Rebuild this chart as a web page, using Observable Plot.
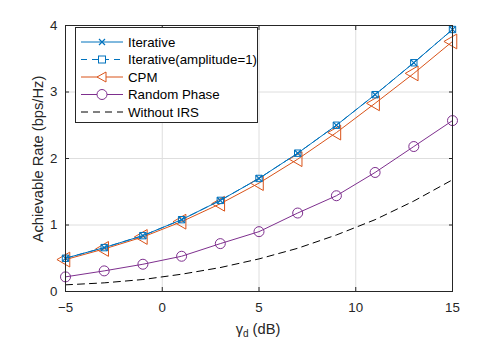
<!DOCTYPE html>
<html><head><meta charset="utf-8">
<script src="https://cdn.jsdelivr.net/npm/d3@7"></script>
<script src="https://cdn.jsdelivr.net/npm/@observablehq/plot@0.6"></script>
<style>
body{margin:0;background:#fff;font-family:"Liberation Sans",Arial,sans-serif;}
#wrap{position:relative;width:498px;height:343px;}
#legend{position:absolute;left:75px;top:27px;width:183px;height:96px;background:#fff;border:1px solid #262626;box-sizing:border-box;}
</style></head>
<body><div id="wrap"><div id="chart"></div><svg id="legend"></svg></div>
<script>
const gamma = [-5,-3,-1,1,3,5,7,9,11,13,15];
const iterative = [0.50,0.66,0.84,1.08,1.37,1.70,2.08,2.50,2.96,3.44,3.94];
const iterativeAmp = [0.50,0.66,0.84,1.08,1.37,1.70,2.08,2.50,2.96,3.44,3.94];
const cpm = [0.48,0.64,0.82,1.05,1.32,1.63,1.99,2.39,2.83,3.28,3.76];
const randomPhase = [0.22,0.31,0.41,0.53,0.72,0.90,1.18,1.44,1.79,2.18,2.57];
const withoutIRS = [0.10,0.13,0.18,0.26,0.36,0.49,0.65,0.85,1.08,1.36,1.68];
const xTicks = [-5,0,5,10,15];
const yTicks = [0,1,2,3,4];
const seriesNames = ["Iterative","Iterative(amplitude=1)","CPM","Random Phase","Without IRS"];

const blue="#0072BD", orange="#D95319", purple="#7E2F8E";
const FONT = "Liberation Sans, Arial, sans-serif";
const mk = v => gamma.map((g,i)=>({x:g,y:v[i]}));

const plot = Plot.plot({
  width:498, height:343,
  marginLeft:65, marginRight:46, marginTop:25, marginBottom:52,
  style:{fontFamily:FONT, fontSize:"13.3px", color:"#262626"},
  x:{domain:[-5,15], ticks:xTicks},
  y:{domain:[0,4], ticks:yTicks},
  marks:[
    Plot.gridX(xTicks,{stroke:"#dedede", strokeOpacity:1}),
    Plot.gridY(yTicks,{stroke:"#dedede", strokeOpacity:1}),
    Plot.lineY(mk(withoutIRS),{x:"x",y:"y",stroke:"#000",strokeWidth:1,strokeDasharray:"7,5"}),
    Plot.lineY(mk(randomPhase),{x:"x",y:"y",stroke:purple,strokeWidth:1}),
    Plot.dot(mk(randomPhase),{x:"x",y:"y",stroke:purple,r:5,strokeWidth:1,fill:"none"}),
    Plot.lineY(mk(cpm),{x:"x",y:"y",stroke:orange,strokeWidth:1}),
    Plot.dot(mk(cpm),{x:"x",y:"y",stroke:orange,symbol:"triangle",r:5.5,rotate:-90,strokeWidth:1,fill:"none"}),
    Plot.lineY(mk(iterativeAmp),{x:"x",y:"y",stroke:blue,strokeWidth:1,strokeDasharray:"7,5"}),
    Plot.dot(mk(iterativeAmp),{x:"x",y:"y",stroke:blue,symbol:"square",r:3.6,strokeWidth:1,fill:"none"}),
    Plot.lineY(mk(iterative),{x:"x",y:"y",stroke:blue,strokeWidth:1}),
    Plot.dot(mk(iterative),{x:"x",y:"y",stroke:blue,symbol:"times",r:3,strokeWidth:1.2}),
    Plot.frame({stroke:"#262626"}),
    Plot.axisX(xTicks,{anchor:"bottom",tickSize:-4,tickPadding:15,tickFormat:d3.format("d"),label:null}),
    Plot.axisX(xTicks,{anchor:"top",tickSize:-4,tickFormat:()=>"",label:null}),
    Plot.axisY(yTicks,{anchor:"left",tickSize:-4,tickPadding:12,tickFormat:d3.format("d"),label:null}),
    Plot.axisY(yTicks,{anchor:"right",tickSize:-4,tickFormat:()=>"",label:null})
  ]
});
document.getElementById("chart").appendChild(plot);
const svg = d3.select(plot);
// y label
svg.append("text").attr("transform","translate(43,159) rotate(-90)").attr("text-anchor","middle")
  .attr("font-size",14.7).attr("fill","#262626").attr("font-family",FONT).text("Achievable Rate (bps/Hz)");
// x label with subscript
const xl = svg.append("text").attr("x",258).attr("y",334).attr("text-anchor","middle")
  .attr("font-size",14.7).attr("fill","#262626").attr("font-family",FONT);
xl.append("tspan").text("γ");
xl.append("tspan").attr("font-size",10).attr("dy",3).text("d");
xl.append("tspan").attr("dy",-3).text(" (dB)");

// legend
const lg = d3.select("#legend");
const styles = [
  {c:blue,dash:null,sym:"x"},
  {c:blue,dash:"6,5",sym:"sq"},
  {c:orange,dash:null,sym:"tri"},
  {c:purple,dash:null,sym:"o"},
  {c:"#000",dash:"7,5",sym:null}
];
seriesNames.forEach((n,i)=>{
  const y = 14 + i*17.5, s = styles[i];
  lg.append("line").attr("x1",5).attr("x2",47).attr("y1",y).attr("y2",y)
    .attr("stroke",s.c).attr("stroke-width",1).attr("stroke-dasharray",s.dash);
  const cx=26;
  if(s.sym==="x") lg.append("path").attr("d",`M${cx-3},${y-3}L${cx+3},${y+3}M${cx-3},${y+3}L${cx+3},${y-3}`).attr("stroke",s.c).attr("stroke-width",1.2);
  if(s.sym==="sq") lg.append("rect").attr("x",cx-3.5).attr("y",y-3.5).attr("width",7).attr("height",7).attr("fill","#fff").attr("stroke",s.c);
  if(s.sym==="tri") lg.append("path").attr("d",`M${cx-5},${y}L${cx+4},${y-5}L${cx+4},${y+5}Z`).attr("fill","#fff").attr("stroke",s.c);
  if(s.sym==="o") lg.append("circle").attr("cx",cx).attr("cy",y).attr("r",5).attr("fill","#fff").attr("stroke",s.c);
  lg.append("text").attr("x",52).attr("y",y+4.8).attr("font-size",13.3).attr("fill","#000")
    .attr("font-family",FONT).text(n);
});
</script></body></html>
